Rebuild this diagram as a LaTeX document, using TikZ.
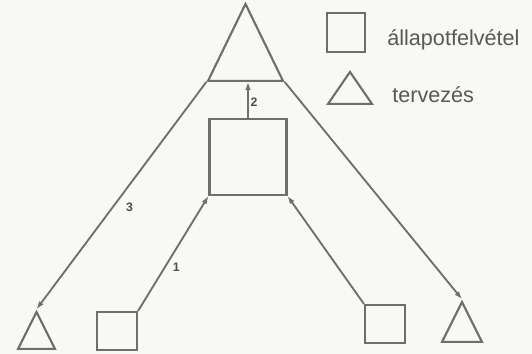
\documentclass[tikz,border=0pt]{standalone}
\usepackage{fontspec}
\setmainfont{Liberation Sans}
\usetikzlibrary{arrows.meta,positioning,shapes.geometric}
\definecolor{ink}{HTML}{6E6E6E}
\definecolor{paper}{HTML}{F8F8F5}

\begin{document}
\begin{tikzpicture}[x=0.02cm, y=-0.02cm,
    box/.style={rectangle, draw=ink, line width=1.2pt, inner sep=0pt},
    tri/.style={isosceles triangle, isosceles triangle stretches, shape border rotate=90,
                draw=ink, line width=1.2pt, inner sep=0pt, anchor=lower side},
    arrow/.style={-{Latex[length=4.5pt,width=3.2pt]}, draw=ink, line width=1.05pt},
    num/.style={font=\fontsize{7}{8}\selectfont\bfseries, text=ink!70!black, inner sep=1pt},
    legend/.style={font=\fontsize{12.3}{14}\selectfont, text=ink!80!black, inner sep=0pt}
]
\fill[paper] (0,0) rectangle (532,354);
\useasboundingbox (0,0) rectangle (532,354);

% planning on top, state survey in the middle
\node[tri, minimum width=1.5cm, minimum height=1.54cm] (plan) at (245.5,82) {};
\node[box, minimum width=1.54cm, minimum height=1.52cm] (state) at (248,157) {};

% bottom row
\node[tri, minimum width=0.74cm, minimum height=0.74cm] (planl) at (36.5,350) {};
\node[box, minimum width=0.8cm, minimum height=0.76cm] (statel) at (117,331) {};
\node[box, minimum width=0.8cm, minimum height=0.76cm] (stater) at (385,324) {};
\node[tri, minimum width=0.8cm, minimum height=0.8cm] (planr) at (462,343) {};

% legend
\node[box, minimum width=0.76cm, minimum height=0.78cm] (legsq) at (346,32.5) {};
\node[tri, minimum width=0.88cm, minimum height=0.64cm] (legtri) at (350,105) {};
\node[legend, anchor=west] (legsqtxt) at (387,40) {állapotfelvétel};
\node[legend, anchor=west] (legtritxt) at (392,95) {tervezés};

\coordinate (base) at (state.north |- plan.left corner);

\draw[arrow] (state.north) -- node[num, right, pos=0.45]{2} (base);
\draw[arrow] (statel.north east) -- node[num, right=3pt, pos=0.38]{1} (state.south west);
\draw[arrow] (stater.north west) -- (state.south east);
\draw[arrow] (plan.left corner) -- node[num, right=6pt, pos=0.55]{3} (planl.apex);
\draw[arrow] (plan.right corner) -- (planr.apex);
\end{tikzpicture}
\end{document}
